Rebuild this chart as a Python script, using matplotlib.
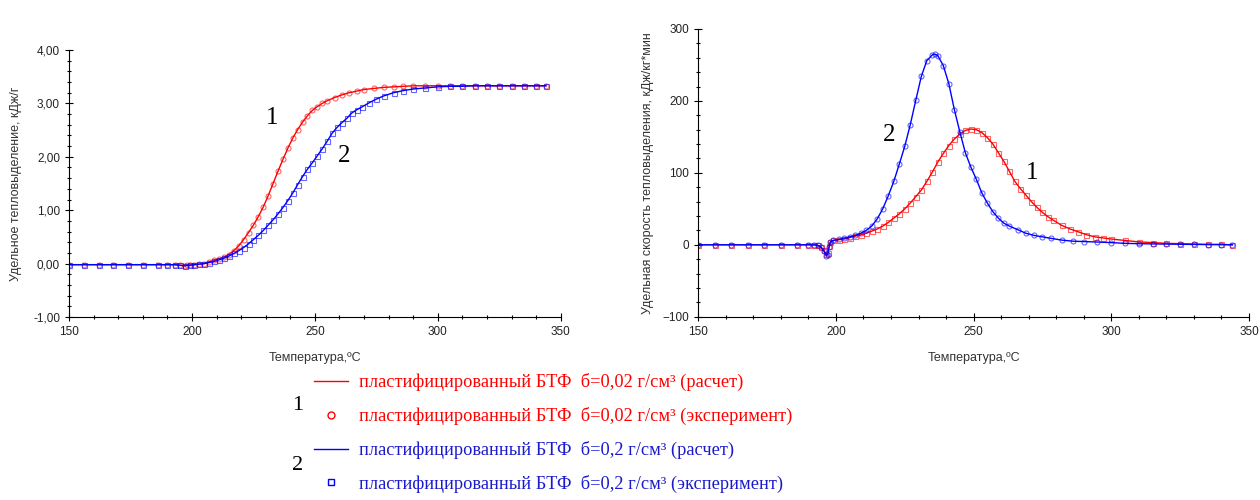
import matplotlib
matplotlib.use("Agg")
import matplotlib.pyplot as plt
from matplotlib.lines import Line2D
from matplotlib.ticker import FuncFormatter, MultipleLocator

# --- левый график: удельное тепловыделение, кДж/г ---
t_q1 = [150, 156, 162, 168, 174, 180, 186, 190, 193, 195, 197, 198, 199, 201, 203, 205, 207, 209,
        211, 213, 215, 217, 219, 221, 223, 225, 227, 229, 231, 233, 235, 237, 239, 241, 243, 245,
        247, 249, 251, 253, 255, 258, 261, 264, 267, 270, 274, 278, 282, 286, 290, 295, 300, 305,
        310, 315, 320, 325, 330, 335, 340, 344]
q1 = [-0.02, -0.02, -0.02, -0.02, -0.02, -0.02, -0.02, -0.02, -0.02, -0.03, -0.04, -0.03, -0.03,
      -0.02, -0.01, 0.00, 0.03, 0.06, 0.09, 0.12, 0.17, 0.24, 0.33, 0.45, 0.58, 0.72, 0.88, 1.06,
      1.27, 1.50, 1.73, 1.95, 2.16, 2.35, 2.51, 2.65, 2.77, 2.87, 2.94, 3.00, 3.05, 3.11, 3.16,
      3.20, 3.23, 3.26, 3.28, 3.30, 3.31, 3.32, 3.33, 3.33, 3.33, 3.33, 3.33, 3.33, 3.33, 3.33,
      3.33, 3.33, 3.33, 3.33]

t_q2 = [150, 156, 162, 168, 174, 180, 186, 190, 193, 195, 197, 199, 201, 203, 205, 207, 209, 211,
        213, 215, 217, 219, 221, 223, 225, 227, 229, 231, 233, 235, 237, 239, 241, 243, 245, 247,
        249, 251, 253, 255, 257, 259, 261, 263, 265, 267, 269, 272, 275, 278, 282, 286, 290, 295,
        300, 305, 310, 315, 320, 325, 330, 335, 340, 344]
q2 = [-0.02, -0.02, -0.02, -0.02, -0.02, -0.02, -0.02, -0.02, -0.02, -0.03, -0.04, -0.03, -0.02,
      -0.01, 0.00, 0.02, 0.04, 0.07, 0.10, 0.14, 0.19, 0.24, 0.30, 0.37, 0.45, 0.53, 0.62, 0.72,
      0.82, 0.93, 1.05, 1.18, 1.32, 1.48, 1.63, 1.77, 1.89, 2.02, 2.15, 2.29, 2.44, 2.55, 2.64,
      2.72, 2.82, 2.88, 2.93, 3.01, 3.08, 3.14, 3.20, 3.24, 3.27, 3.29, 3.31, 3.32, 3.32, 3.33,
      3.33, 3.33, 3.33, 3.33, 3.33, 3.33]

# --- правый график: удельная скорость тепловыделения, кДж/кг*мин ---
t_w1 = [150, 156, 162, 168, 174, 180, 186, 190, 192, 193.5, 194.5, 195.5, 196.5, 197, 197.5, 198,
        199, 201, 203, 205, 207, 209, 211, 213, 215, 217, 219, 221, 223, 225, 227, 229, 231, 233,
        235, 237, 239, 241, 243, 245, 247, 249, 251, 253, 255, 257, 259, 261, 263, 265, 267, 269,
        271, 273, 275, 277, 279, 282, 285, 288, 291, 294, 297, 300, 305, 310, 315, 320, 325, 330,
        335, 340, 344]
w1 = [0, 0, 0, 0, 0, 0, 0, 0, 0, -1, -3, -7, -13, -12, -2, 4,
      6, 7, 8, 10, 12, 14, 16, 19, 22, 26, 31, 37, 43, 50, 58, 67, 76, 88,
      101, 115, 127, 138, 147, 154, 159, 161, 160, 156, 149, 140, 128, 116, 102, 88, 78, 69,
      60, 52, 45, 39, 34, 27, 22, 18, 14, 11, 9.5, 8, 6, 4, 3, 2, 1.5, 1,
      0.5, 0.5, 0]

t_w2 = [150, 156, 162, 168, 174, 180, 186, 190, 192, 193.5, 194.5, 195.5, 196.5, 197, 197.5, 198,
        199, 201, 203, 205, 207, 209, 211, 213, 215, 217, 219, 221, 223, 225, 227, 229, 231, 233,
        235, 236, 237, 239, 241, 243, 245, 247, 249, 251, 253, 255, 257, 259, 261, 263, 266, 269,
        272, 275, 278, 282, 286, 290, 295, 300, 305, 310, 315, 320, 325, 330, 335, 340, 344]
w2 = [0, 0, 0, 0, 0, 0, 0, 0, 0, -1, -3, -8, -15, -14, -3, 4,
      6, 7.5, 9, 11, 13, 16, 20, 26, 36, 50, 68, 88, 112, 137, 167, 201, 234, 256,
      264, 265, 263, 249, 224, 188, 157, 128, 108, 91, 72, 58, 46, 37, 30, 26, 21, 16,
      13, 11, 9, 6.5, 5, 4.5, 3.8, 3, 2, 1.5, 1.2, 1, 0.7, 0.5, 0.3, 0.2, 0]

RED = "#ff0000"
BLUE = "#0000ff"
TXT = "#333333"

plt.rcParams["font.family"] = ["Liberation Sans", "DejaVu Sans"]

fig = plt.figure(figsize=(12.6, 5), dpi=100)
ax1 = fig.add_axes([0.0548, 0.366, 0.3902, 0.534])
ax2 = fig.add_axes([0.5542, 0.3666, 0.4370, 0.5754])


def series(ax, t, y, color, marker):
    ax.plot(t, y, ls="none", marker=marker, ms=3.6, mfc="none", mec=color, mew=0.8, alpha=0.6)
    ax.plot(t, y, color=color, lw=1.0)


series(ax1, t_q1, q1, RED, "o")
series(ax1, t_q2, q2, BLUE, "s")
series(ax2, t_w1, w1, RED, "s")
series(ax2, t_w2, w2, BLUE, "o")

for ax in (ax1, ax2):
    ax.set_xlim(150, 350)
    ax.spines["top"].set_visible(False)
    ax.spines["right"].set_visible(False)
    ax.xaxis.set_major_locator(MultipleLocator(50))
    ax.xaxis.set_minor_locator(MultipleLocator(10))
    ax.tick_params(which="major", direction="inout", length=6, width=0.8, labelsize=8.5,
                   labelcolor="#222222")
    ax.tick_params(which="minor", direction="inout", length=3, width=0.8)
    ax.set_xlabel("Температура,ºC", fontsize=9, color=TXT, labelpad=10)

ax1.set_ylim(-1, 4)
ax1.yaxis.set_major_locator(MultipleLocator(1))
ax1.yaxis.set_minor_locator(MultipleLocator(0.2))
ax1.yaxis.set_major_formatter(FuncFormatter(lambda v, p: f"{v:.2f}".replace(".", ",")))
ax1.set_ylabel("Удельное тепловыделение, кДж/г", fontsize=9, color=TXT, labelpad=8)

ax2.set_ylim(-100, 300)
ax2.yaxis.set_major_locator(MultipleLocator(100))
ax2.yaxis.set_minor_locator(MultipleLocator(20))
ax2.set_ylabel("Удельная скорость тепловыделения, кДж/кг*мин", fontsize=9, color=TXT,
               labelpad=6)

serif = ["Liberation Serif", "DejaVu Serif"]
ax1.text(232.5, 2.73, "1", fontsize=18, family=serif, ha="center", va="center")
ax1.text(262, 2.02, "2", fontsize=18, family=serif, ha="center", va="center")
ax2.text(219.3, 152, "2", fontsize=18, family=serif, ha="center", va="center")
ax2.text(271.3, 100, "1", fontsize=18, family=serif, ha="center", va="center")

handles = [
    Line2D([], [], color=RED, lw=1),
    Line2D([], [], color=RED, ls="none", marker="o", ms=5, mfc="none", mew=1),
    Line2D([], [], color=BLUE, lw=1),
    Line2D([], [], color=BLUE, ls="none", marker="s", ms=5, mfc="none", mew=1),
]
labels = [
    "пластифицированный БТФ  б=0,02 г/см³ (расчет)",
    "пластифицированный БТФ  б=0,02 г/см³ (эксперимент)",
    "пластифицированный БТФ  б=0,2 г/см³ (расчет)",
    "пластифицированный БТФ  б=0,2 г/см³ (эксперимент)",
]
fig.legend(handles, labels, loc="upper left", bbox_to_anchor=(0.243, 0.268), frameon=False,
           prop={"family": serif, "size": 13.2}, labelcolor=[RED, RED, "#1a1acc", "#1a1acc"],
           handlelength=1.9, handletextpad=0.6, labelspacing=0.86, borderaxespad=0)

fig.text(0.232, 0.19, "1", fontsize=16, family=serif, va="center")
fig.text(0.232, 0.068, "2", fontsize=16, family=serif, va="center")

fig.savefig("out.png", dpi=100)
